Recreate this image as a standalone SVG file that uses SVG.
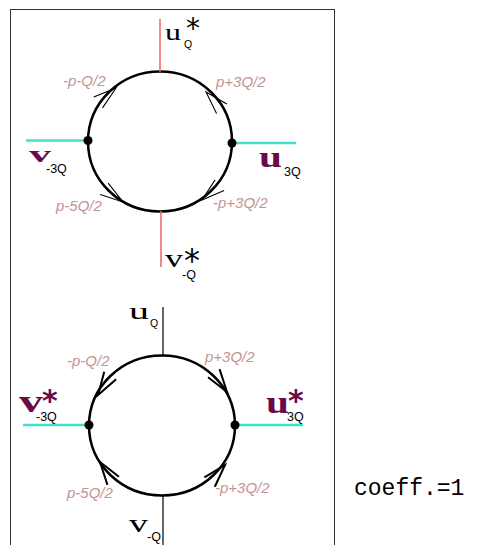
<svg xmlns="http://www.w3.org/2000/svg" xmlns:xlink="http://www.w3.org/1999/xlink" width="487" height="545" viewBox="0 0 487 545">
<style>
.loop{fill:none;stroke:#000;stroke-width:2.5}
.red{stroke:#f06060;stroke-width:1.5}
.blk{stroke:#000;stroke-width:1.2}
.cyan{stroke:#40e0d0;stroke-width:2.5}
.ah1{fill:none;stroke:#000;stroke-width:1.1}
.ah2{fill:none;stroke:#000;stroke-width:2}
.mom{font-family:"Liberation Sans",Arial,sans-serif;font-style:italic;font-size:15px;fill:#c49494}
.field{font-family:"Liberation Serif","Times New Roman",serif;fill:#000}
.bold{font-weight:bold;fill:#6a0a4a}
.sub{font-family:"Liberation Sans",Arial,sans-serif;font-size:12.5px;fill:#000;font-weight:normal}
.subq{font-family:"Liberation Sans",Arial,sans-serif;font-size:10.5px;fill:#000;font-weight:normal}
.star{font-family:"DejaVu Sans",sans-serif}
.mono{font-family:"Liberation Mono","Courier New",monospace;fill:#000}
.dot{fill:#000}
</style>
<defs>
<path id="ah" d="M-23,-7 L0,0 L-23,7"/>
</defs>
<rect x="10.5" y="9.5" width="324" height="560" fill="none" stroke="#333" stroke-width="1"/>
<g id="connectors">
<ellipse class="loop" cx="160" cy="141.5" rx="72" ry="70"/>
<line class="red" x1="160" y1="19" x2="160" y2="72"/>
<line class="red" x1="161" y1="211" x2="161" y2="267"/>
<line class="cyan" x1="26" y1="140.5" x2="88" y2="140.5"/>
<line class="cyan" x1="232" y1="143" x2="296" y2="143"/>
<use href="#ah" class="ah1" transform="translate(116,88) rotate(-39)"/>
<use href="#ah" class="ah1" transform="translate(206,92) rotate(-133)"/>
<use href="#ah" class="ah1" transform="translate(123,202) rotate(35)"/>
<use href="#ah" class="ah1" transform="translate(202,200) rotate(140)"/>
<ellipse class="loop" cx="162" cy="425.5" rx="73" ry="70"/>
<line class="blk" x1="163" y1="307" x2="163" y2="356"/>
<line class="blk" x1="163" y1="495" x2="163" y2="545"/>
<line class="cyan" x1="23" y1="425" x2="89" y2="425"/>
<line class="cyan" x1="235" y1="425" x2="303" y2="425"/>
<use href="#ah" class="ah2" transform="translate(98,395) rotate(122)"/>
<use href="#ah" class="ah2" transform="translate(227,392) rotate(55)"/>
<use href="#ah" class="ah2" transform="translate(100,462) rotate(-125)"/>
<use href="#ah" class="ah2" transform="translate(225,465) rotate(-48)"/>
</g>
<g id="d1-vertex-left"><circle class="dot" cx="88" cy="140.5" r="4.5"/></g>
<g id="d1-vertex-right"><circle class="dot" cx="232" cy="143" r="4.5"/></g>
<g id="d2-vertex-left"><circle class="dot" cx="89" cy="425" r="4.5"/></g>
<g id="d2-vertex-right"><circle class="dot" cx="235" cy="425" r="4.5"/></g>
<g id="d1-label-top">
<text class="field" font-size="24"><tspan x="165" y="39.5" textLength="16" lengthAdjust="spacingAndGlyphs">u</tspan><tspan class="star" x="186" y="37.5" font-size="28">*</tspan><tspan class="subq" x="184" y="48">Q</tspan></text>
</g>
<g id="d1-label-left">
<text class="field bold" font-size="24"><tspan x="29" y="161.5" textLength="22" lengthAdjust="spacingAndGlyphs">v</tspan><tspan class="sub" x="46" y="173">-3Q</tspan></text>
</g>
<g id="d1-label-right">
<text class="field bold" font-size="30"><tspan x="259" y="167" textLength="23" lengthAdjust="spacingAndGlyphs">u</tspan><tspan class="sub" x="284" y="176">3Q</tspan></text>
</g>
<g id="d1-label-bottom">
<text class="field" font-size="26"><tspan x="165" y="267" textLength="18" lengthAdjust="spacingAndGlyphs">v</tspan><tspan class="star" x="184" y="271" font-size="32">*</tspan><tspan class="sub" x="182" y="279">-Q</tspan></text>
</g>
<g id="d1-momenta">
<text class="mom" x="63" y="86">-p-Q/2</text>
<text class="mom" x="216" y="87">p+3Q/2</text>
<text class="mom" x="56" y="211">p-5Q/2</text>
<text class="mom" x="213" y="208">-p+3Q/2</text>
</g>
<g id="d2-label-top">
<text class="field" font-size="24"><tspan x="129" y="319" textLength="20" lengthAdjust="spacingAndGlyphs">u</tspan><tspan class="subq" x="150" y="327">Q</tspan></text>
</g>
<g id="d2-label-left">
<text class="field bold" font-size="32"><tspan x="19" y="412" textLength="24" lengthAdjust="spacingAndGlyphs">v</tspan><tspan class="star" x="42" y="411" font-size="30">*</tspan><tspan class="sub" x="36" y="421">-3Q</tspan></text>
</g>
<g id="d2-label-right">
<text class="field bold" font-size="32"><tspan x="266" y="413" textLength="23" lengthAdjust="spacingAndGlyphs">u</tspan><tspan class="star" x="288" y="411" font-size="30">*</tspan><tspan class="sub" x="287" y="421">3Q</tspan></text>
</g>
<g id="d2-label-bottom">
<text class="field" font-size="26"><tspan x="129" y="532" textLength="19" lengthAdjust="spacingAndGlyphs">v</tspan><tspan class="sub" x="147" y="541">-Q</tspan></text>
</g>
<g id="d2-momenta">
<text class="mom" x="67" y="366">-p-Q/2</text>
<text class="mom" x="205" y="362">p+3Q/2</text>
<text class="mom" x="67" y="498">p-5Q/2</text>
<text class="mom" x="215" y="493">-p+3Q/2</text>
</g>
<g id="coeff">
<text class="mono" x="354" y="495" font-size="23">coeff.=1</text>
</g>
</svg>
